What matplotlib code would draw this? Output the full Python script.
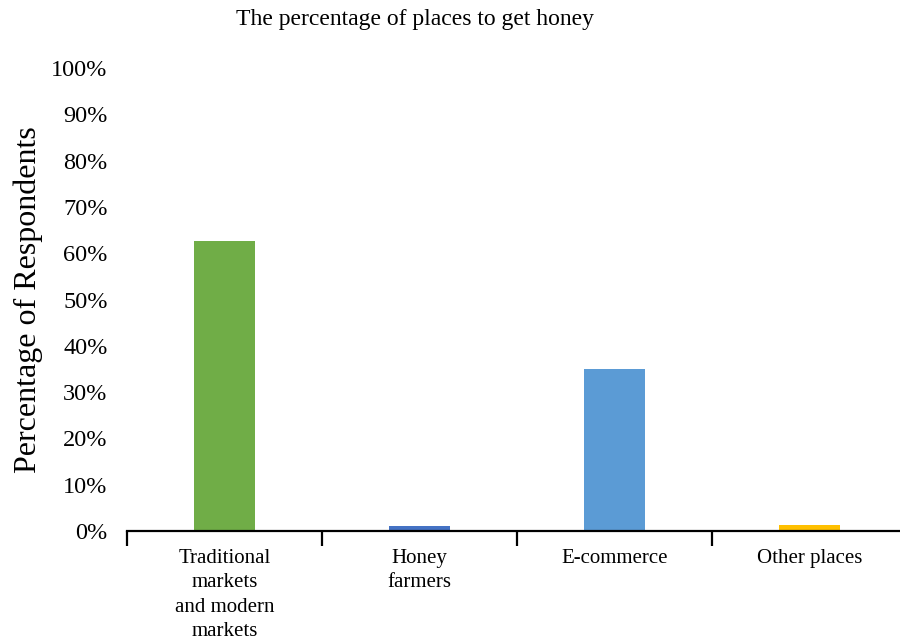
import matplotlib
matplotlib.use('Agg')
import matplotlib.pyplot as plt
from matplotlib.ticker import PercentFormatter, FixedLocator

categories = ["Traditional\nmarkets\nand modern\nmarkets", "Honey\nfarmers", "E-commerce", "Other places"]
shares = [0.627, 0.010, 0.350, 0.013]
bar_colors = ["#70AD47", "#4472C4", "#5B9BD5", "#FFC000"]
y_ticks = [i / 10 for i in range(11)]

plt.rcParams['font.family'] = ['Liberation Serif', 'DejaVu Serif']

fig = plt.figure(figsize=(9, 6.42), dpi=100)
W, H = 900, 642
left, right, top, bottom = 127, 907, 68, 531
ax = fig.add_axes([left / W, 1 - bottom / H, (right - left) / W, (bottom - top) / H])

x = range(len(categories))
ax.bar(x, shares, width=0.31, color=bar_colors)

ax.set_xlim(-0.5, 3.5)
ax.set_ylim(0, 1)
ax.set_yticks(y_ticks)
ax.yaxis.set_major_formatter(PercentFormatter(1.0, decimals=0))
ax.tick_params(axis='y', length=0, pad=14, labelsize=17.5)

ax.set_xticks(list(x))
ax.set_xticklabels(categories, fontsize=15, linespacing=1.38, va='top')
ax.tick_params(axis='x', which='major', length=0, pad=13)
ax.xaxis.set_minor_locator(FixedLocator([-0.5, 0.5, 1.5, 2.5, 3.5]))
ax.tick_params(axis='x', which='minor', length=11, width=1.6, direction='out')

for side in ('left', 'right', 'top'):
    ax.spines[side].set_visible(False)
ax.spines['bottom'].set_linewidth(1.6)

ax.set_ylabel("Percentage of Respondents", fontsize=23, labelpad=6)
fig.text(415 / W, 1 - 20 / H, "The percentage of places to get honey",
         ha='center', va='center', fontsize=17)

fig.savefig("out.png", dpi=100)
